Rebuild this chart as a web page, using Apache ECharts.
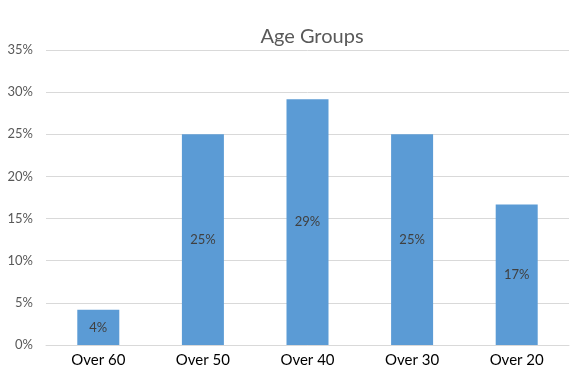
<!DOCTYPE html>
<html>
<head>
<meta charset="utf-8">
<script src="https://cdn.jsdelivr.net/npm/echarts@6/dist/echarts.min.js"></script>
<style>
  html, body { margin: 0; padding: 0; background: #fff; }
  #chart { width: 582px; height: 377px; }
</style>
</head>
<body>
<div id="chart"></div>
<script>
const categories = ["Over 60", "Over 50", "Over 40", "Over 30", "Over 20"];
const shares = [4.17, 25, 29.17, 25, 16.67];

const chart = echarts.init(document.getElementById("chart"));
chart.setOption({
  animation: false,
  title: {
    text: "Age Groups",
    left: 307,
    textAlign: "center",
    top: 22,
    textStyle: { fontFamily: "Lato", fontSize: 20, fontWeight: "normal", color: "#595959" },
  },
  grid: { left: 46, right: 13, top: 50, bottom: 32 },
  xAxis: {
    type: "category",
    data: categories,
    axisLine: { lineStyle: { color: "#d9d9d9" } },
    axisTick: { show: false },
    axisLabel: { fontFamily: "Lato", fontSize: 15, color: "#000", margin: 8 },
  },
  yAxis: {
    type: "value",
    min: 0,
    max: 35,
    interval: 5,
    axisLabel: {
      formatter: v => v + "%",
      fontFamily: "Lato",
      fontSize: 13,
      color: "#595959",
      margin: 13,
    },
    splitLine: { lineStyle: { color: "#d9d9d9" } },
  },
  series: [
    {
      type: "bar",
      data: shares,
      barWidth: 42,
      itemStyle: { color: "#5b9bd5" },
      label: {
        show: true,
        position: "inside",
        formatter: p => Math.round(p.value) + "%",
        fontFamily: "Lato",
        fontSize: 13,
        color: "#404040",
      },
    },
  ],
});
</script>
</body>
</html>
